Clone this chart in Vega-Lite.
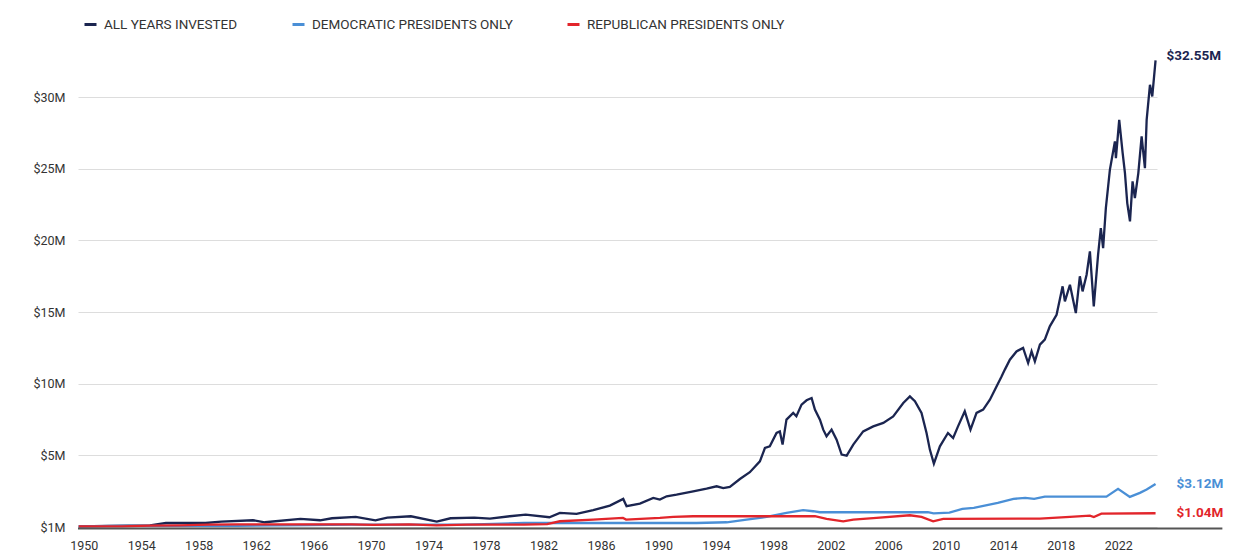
{
  "$schema": "https://vega.github.io/schema/vega-lite/v6.json",
  "width": 1079,
  "height": 473,
  "autosize": {"type": "none"},
  "padding": {"left": 78, "top": 54, "right": 82, "bottom": 27},
  "background": "white",
  "config": {
    "view": {"stroke": null},
    "font": "Roboto",
    "axis": {"labelFont": "Roboto", "labelColor": "#333333", "labelFontSize": 12.5}
  },
  "datasets": {
    "lines": [
      {"series": "ALL YEARS INVESTED", "year": 1950.0, "value": 0.05},
      {"series": "ALL YEARS INVESTED", "year": 1952.0, "value": 0.08},
      {"series": "ALL YEARS INVESTED", "year": 1954.96, "value": 0.12},
      {"series": "ALL YEARS INVESTED", "year": 1956.07, "value": 0.28},
      {"series": "ALL YEARS INVESTED", "year": 1958.82, "value": 0.28},
      {"series": "ALL YEARS INVESTED", "year": 1959.92, "value": 0.38},
      {"series": "ALL YEARS INVESTED", "year": 1962.13, "value": 0.47},
      {"series": "ALL YEARS INVESTED", "year": 1962.95, "value": 0.33},
      {"series": "ALL YEARS INVESTED", "year": 1965.43, "value": 0.56},
      {"series": "ALL YEARS INVESTED", "year": 1966.8, "value": 0.47},
      {"series": "ALL YEARS INVESTED", "year": 1967.63, "value": 0.61},
      {"series": "ALL YEARS INVESTED", "year": 1969.28, "value": 0.7},
      {"series": "ALL YEARS INVESTED", "year": 1970.65, "value": 0.47},
      {"series": "ALL YEARS INVESTED", "year": 1971.48, "value": 0.65},
      {"series": "ALL YEARS INVESTED", "year": 1973.12, "value": 0.75},
      {"series": "ALL YEARS INVESTED", "year": 1974.92, "value": 0.38},
      {"series": "ALL YEARS INVESTED", "year": 1975.88, "value": 0.61},
      {"series": "ALL YEARS INVESTED", "year": 1977.53, "value": 0.66},
      {"series": "ALL YEARS INVESTED", "year": 1978.62, "value": 0.58},
      {"series": "ALL YEARS INVESTED", "year": 1980.0, "value": 0.75},
      {"series": "ALL YEARS INVESTED", "year": 1981.11, "value": 0.86},
      {"series": "ALL YEARS INVESTED", "year": 1982.76, "value": 0.68},
      {"series": "ALL YEARS INVESTED", "year": 1983.49, "value": 0.98},
      {"series": "ALL YEARS INVESTED", "year": 1984.65, "value": 0.91},
      {"series": "ALL YEARS INVESTED", "year": 1985.81, "value": 1.17},
      {"series": "ALL YEARS INVESTED", "year": 1986.97, "value": 1.49},
      {"series": "ALL YEARS INVESTED", "year": 1987.9, "value": 1.96},
      {"series": "ALL YEARS INVESTED", "year": 1988.13, "value": 1.45},
      {"series": "ALL YEARS INVESTED", "year": 1989.06, "value": 1.63},
      {"series": "ALL YEARS INVESTED", "year": 1989.99, "value": 2.03},
      {"series": "ALL YEARS INVESTED", "year": 1990.45, "value": 1.91},
      {"series": "ALL YEARS INVESTED", "year": 1990.92, "value": 2.14},
      {"series": "ALL YEARS INVESTED", "year": 1991.61, "value": 2.26},
      {"series": "ALL YEARS INVESTED", "year": 1992.77, "value": 2.49},
      {"series": "ALL YEARS INVESTED", "year": 1993.7, "value": 2.68},
      {"series": "ALL YEARS INVESTED", "year": 1994.4, "value": 2.84},
      {"series": "ALL YEARS INVESTED", "year": 1994.86, "value": 2.72},
      {"series": "ALL YEARS INVESTED", "year": 1995.32, "value": 2.8},
      {"series": "ALL YEARS INVESTED", "year": 1996.02, "value": 3.35},
      {"series": "ALL YEARS INVESTED", "year": 1996.71, "value": 3.82},
      {"series": "ALL YEARS INVESTED", "year": 1997.41, "value": 4.58},
      {"series": "ALL YEARS INVESTED", "year": 1997.76, "value": 5.51},
      {"series": "ALL YEARS INVESTED", "year": 1998.1, "value": 5.63},
      {"series": "ALL YEARS INVESTED", "year": 1998.57, "value": 6.56},
      {"series": "ALL YEARS INVESTED", "year": 1998.8, "value": 6.67},
      {"series": "ALL YEARS INVESTED", "year": 1998.99, "value": 5.75},
      {"series": "ALL YEARS INVESTED", "year": 1999.26, "value": 7.49},
      {"series": "ALL YEARS INVESTED", "year": 1999.73, "value": 7.96},
      {"series": "ALL YEARS INVESTED", "year": 1999.95, "value": 7.73},
      {"series": "ALL YEARS INVESTED", "year": 2000.31, "value": 8.54},
      {"series": "ALL YEARS INVESTED", "year": 2000.66, "value": 8.84},
      {"series": "ALL YEARS INVESTED", "year": 2001.01, "value": 9.0},
      {"series": "ALL YEARS INVESTED", "year": 2001.24, "value": 8.19},
      {"series": "ALL YEARS INVESTED", "year": 2001.59, "value": 7.49},
      {"series": "ALL YEARS INVESTED", "year": 2001.82, "value": 6.79},
      {"series": "ALL YEARS INVESTED", "year": 2002.05, "value": 6.33},
      {"series": "ALL YEARS INVESTED", "year": 2002.4, "value": 6.79},
      {"series": "ALL YEARS INVESTED", "year": 2002.75, "value": 6.09},
      {"series": "ALL YEARS INVESTED", "year": 2003.1, "value": 5.05},
      {"series": "ALL YEARS INVESTED", "year": 2003.45, "value": 4.98},
      {"series": "ALL YEARS INVESTED", "year": 2003.91, "value": 5.75},
      {"series": "ALL YEARS INVESTED", "year": 2004.6, "value": 6.67},
      {"series": "ALL YEARS INVESTED", "year": 2005.3, "value": 7.02},
      {"series": "ALL YEARS INVESTED", "year": 2006.0, "value": 7.26},
      {"series": "ALL YEARS INVESTED", "year": 2006.69, "value": 7.72},
      {"series": "ALL YEARS INVESTED", "year": 2007.39, "value": 8.65},
      {"series": "ALL YEARS INVESTED", "year": 2007.85, "value": 9.11},
      {"series": "ALL YEARS INVESTED", "year": 2008.2, "value": 8.77},
      {"series": "ALL YEARS INVESTED", "year": 2008.66, "value": 7.96},
      {"series": "ALL YEARS INVESTED", "year": 2009.01, "value": 6.56},
      {"series": "ALL YEARS INVESTED", "year": 2009.24, "value": 5.4},
      {"series": "ALL YEARS INVESTED", "year": 2009.52, "value": 4.42},
      {"series": "ALL YEARS INVESTED", "year": 2009.94, "value": 5.63},
      {"series": "ALL YEARS INVESTED", "year": 2010.5, "value": 6.56},
      {"series": "ALL YEARS INVESTED", "year": 2010.86, "value": 6.21},
      {"series": "ALL YEARS INVESTED", "year": 2011.2, "value": 7.02},
      {"series": "ALL YEARS INVESTED", "year": 2011.67, "value": 8.07},
      {"series": "ALL YEARS INVESTED", "year": 2012.07, "value": 6.79},
      {"series": "ALL YEARS INVESTED", "year": 2012.49, "value": 7.96},
      {"series": "ALL YEARS INVESTED", "year": 2012.95, "value": 8.19},
      {"series": "ALL YEARS INVESTED", "year": 2013.42, "value": 8.88},
      {"series": "ALL YEARS INVESTED", "year": 2013.88, "value": 9.81},
      {"series": "ALL YEARS INVESTED", "year": 2014.23, "value": 10.5},
      {"series": "ALL YEARS INVESTED", "year": 2014.46, "value": 10.98},
      {"series": "ALL YEARS INVESTED", "year": 2014.81, "value": 11.67},
      {"series": "ALL YEARS INVESTED", "year": 2015.27, "value": 12.25},
      {"series": "ALL YEARS INVESTED", "year": 2015.73, "value": 12.49},
      {"series": "ALL YEARS INVESTED", "year": 2016.08, "value": 11.44},
      {"series": "ALL YEARS INVESTED", "year": 2016.32, "value": 12.26},
      {"series": "ALL YEARS INVESTED", "year": 2016.55, "value": 11.56},
      {"series": "ALL YEARS INVESTED", "year": 2016.9, "value": 12.72},
      {"series": "ALL YEARS INVESTED", "year": 2017.24, "value": 13.07},
      {"series": "ALL YEARS INVESTED", "year": 2017.59, "value": 14.0},
      {"series": "ALL YEARS INVESTED", "year": 2018.06, "value": 14.81},
      {"series": "ALL YEARS INVESTED", "year": 2018.48, "value": 16.79},
      {"series": "ALL YEARS INVESTED", "year": 2018.64, "value": 15.74},
      {"series": "ALL YEARS INVESTED", "year": 2018.99, "value": 16.9},
      {"series": "ALL YEARS INVESTED", "year": 2019.4, "value": 14.93},
      {"series": "ALL YEARS INVESTED", "year": 2019.68, "value": 17.49},
      {"series": "ALL YEARS INVESTED", "year": 2019.87, "value": 16.44},
      {"series": "ALL YEARS INVESTED", "year": 2020.15, "value": 17.6},
      {"series": "ALL YEARS INVESTED", "year": 2020.38, "value": 19.23},
      {"series": "ALL YEARS INVESTED", "year": 2020.65, "value": 15.39},
      {"series": "ALL YEARS INVESTED", "year": 2020.95, "value": 19.0},
      {"series": "ALL YEARS INVESTED", "year": 2021.14, "value": 20.86},
      {"series": "ALL YEARS INVESTED", "year": 2021.3, "value": 19.46},
      {"series": "ALL YEARS INVESTED", "year": 2021.49, "value": 22.25},
      {"series": "ALL YEARS INVESTED", "year": 2021.77, "value": 24.92},
      {"series": "ALL YEARS INVESTED", "year": 2022.12, "value": 26.9},
      {"series": "ALL YEARS INVESTED", "year": 2022.19, "value": 25.74},
      {"series": "ALL YEARS INVESTED", "year": 2022.42, "value": 28.41},
      {"series": "ALL YEARS INVESTED", "year": 2022.66, "value": 26.09},
      {"series": "ALL YEARS INVESTED", "year": 2022.82, "value": 24.69},
      {"series": "ALL YEARS INVESTED", "year": 2022.98, "value": 22.6},
      {"series": "ALL YEARS INVESTED", "year": 2023.17, "value": 21.32},
      {"series": "ALL YEARS INVESTED", "year": 2023.35, "value": 24.11},
      {"series": "ALL YEARS INVESTED", "year": 2023.51, "value": 22.95},
      {"series": "ALL YEARS INVESTED", "year": 2023.75, "value": 24.69},
      {"series": "ALL YEARS INVESTED", "year": 2023.98, "value": 27.25},
      {"series": "ALL YEARS INVESTED", "year": 2024.21, "value": 25.04},
      {"series": "ALL YEARS INVESTED", "year": 2024.33, "value": 28.41},
      {"series": "ALL YEARS INVESTED", "year": 2024.56, "value": 30.85},
      {"series": "ALL YEARS INVESTED", "year": 2024.72, "value": 30.04},
      {"series": "ALL YEARS INVESTED", "year": 2024.95, "value": 32.55},

      {"series": "DEMOCRATIC PRESIDENTS ONLY", "year": 1950.0, "value": 0.05},
      {"series": "DEMOCRATIC PRESIDENTS ONLY", "year": 1953.0, "value": 0.08},
      {"series": "DEMOCRATIC PRESIDENTS ONLY", "year": 1961.0, "value": 0.08},
      {"series": "DEMOCRATIC PRESIDENTS ONLY", "year": 1966.0, "value": 0.14},
      {"series": "DEMOCRATIC PRESIDENTS ONLY", "year": 1969.0, "value": 0.16},
      {"series": "DEMOCRATIC PRESIDENTS ONLY", "year": 1977.0, "value": 0.16},
      {"series": "DEMOCRATIC PRESIDENTS ONLY", "year": 1981.0, "value": 0.28},
      {"series": "DEMOCRATIC PRESIDENTS ONLY", "year": 1993.0, "value": 0.28},
      {"series": "DEMOCRATIC PRESIDENTS ONLY", "year": 1995.1, "value": 0.33},
      {"series": "DEMOCRATIC PRESIDENTS ONLY", "year": 1996.48, "value": 0.52},
      {"series": "DEMOCRATIC PRESIDENTS ONLY", "year": 1997.88, "value": 0.7},
      {"series": "DEMOCRATIC PRESIDENTS ONLY", "year": 1999.26, "value": 0.98},
      {"series": "DEMOCRATIC PRESIDENTS ONLY", "year": 2000.42, "value": 1.17},
      {"series": "DEMOCRATIC PRESIDENTS ONLY", "year": 2001.12, "value": 1.1},
      {"series": "DEMOCRATIC PRESIDENTS ONLY", "year": 2001.59, "value": 1.03},
      {"series": "DEMOCRATIC PRESIDENTS ONLY", "year": 2009.1, "value": 1.03},
      {"series": "DEMOCRATIC PRESIDENTS ONLY", "year": 2009.5, "value": 0.95},
      {"series": "DEMOCRATIC PRESIDENTS ONLY", "year": 2010.6, "value": 1.0},
      {"series": "DEMOCRATIC PRESIDENTS ONLY", "year": 2011.5, "value": 1.26},
      {"series": "DEMOCRATIC PRESIDENTS ONLY", "year": 2012.3, "value": 1.33},
      {"series": "DEMOCRATIC PRESIDENTS ONLY", "year": 2013.97, "value": 1.68},
      {"series": "DEMOCRATIC PRESIDENTS ONLY", "year": 2015.06, "value": 1.96},
      {"series": "DEMOCRATIC PRESIDENTS ONLY", "year": 2015.88, "value": 2.03},
      {"series": "DEMOCRATIC PRESIDENTS ONLY", "year": 2016.5, "value": 1.96},
      {"series": "DEMOCRATIC PRESIDENTS ONLY", "year": 2017.24, "value": 2.12},
      {"series": "DEMOCRATIC PRESIDENTS ONLY", "year": 2021.53, "value": 2.12},
      {"series": "DEMOCRATIC PRESIDENTS ONLY", "year": 2022.34, "value": 2.66},
      {"series": "DEMOCRATIC PRESIDENTS ONLY", "year": 2023.16, "value": 2.1},
      {"series": "DEMOCRATIC PRESIDENTS ONLY", "year": 2023.86, "value": 2.38},
      {"series": "DEMOCRATIC PRESIDENTS ONLY", "year": 2024.33, "value": 2.61},
      {"series": "DEMOCRATIC PRESIDENTS ONLY", "year": 2024.95, "value": 3.0},

      {"series": "REPUBLICAN PRESIDENTS ONLY", "year": 1950.0, "value": 0.05},
      {"series": "REPUBLICAN PRESIDENTS ONLY", "year": 1953.0, "value": 0.05},
      {"series": "REPUBLICAN PRESIDENTS ONLY", "year": 1955.0, "value": 0.1},
      {"series": "REPUBLICAN PRESIDENTS ONLY", "year": 1957.0, "value": 0.12},
      {"series": "REPUBLICAN PRESIDENTS ONLY", "year": 1959.0, "value": 0.16},
      {"series": "REPUBLICAN PRESIDENTS ONLY", "year": 1961.0, "value": 0.18},
      {"series": "REPUBLICAN PRESIDENTS ONLY", "year": 1969.0, "value": 0.18},
      {"series": "REPUBLICAN PRESIDENTS ONLY", "year": 1970.5, "value": 0.15},
      {"series": "REPUBLICAN PRESIDENTS ONLY", "year": 1973.0, "value": 0.19},
      {"series": "REPUBLICAN PRESIDENTS ONLY", "year": 1974.9, "value": 0.12},
      {"series": "REPUBLICAN PRESIDENTS ONLY", "year": 1977.0, "value": 0.17},
      {"series": "REPUBLICAN PRESIDENTS ONLY", "year": 1981.0, "value": 0.17},
      {"series": "REPUBLICAN PRESIDENTS ONLY", "year": 1982.6, "value": 0.2},
      {"series": "REPUBLICAN PRESIDENTS ONLY", "year": 1983.49, "value": 0.4},
      {"series": "REPUBLICAN PRESIDENTS ONLY", "year": 1985.8, "value": 0.52},
      {"series": "REPUBLICAN PRESIDENTS ONLY", "year": 1987.88, "value": 0.63},
      {"series": "REPUBLICAN PRESIDENTS ONLY", "year": 1988.1, "value": 0.52},
      {"series": "REPUBLICAN PRESIDENTS ONLY", "year": 1990.45, "value": 0.63},
      {"series": "REPUBLICAN PRESIDENTS ONLY", "year": 1991.38, "value": 0.7},
      {"series": "REPUBLICAN PRESIDENTS ONLY", "year": 1992.77, "value": 0.75},
      {"series": "REPUBLICAN PRESIDENTS ONLY", "year": 2001.24, "value": 0.75},
      {"series": "REPUBLICAN PRESIDENTS ONLY", "year": 2002.05, "value": 0.56},
      {"series": "REPUBLICAN PRESIDENTS ONLY", "year": 2003.21, "value": 0.4},
      {"series": "REPUBLICAN PRESIDENTS ONLY", "year": 2003.91, "value": 0.52},
      {"series": "REPUBLICAN PRESIDENTS ONLY", "year": 2005.53, "value": 0.63},
      {"series": "REPUBLICAN PRESIDENTS ONLY", "year": 2007.85, "value": 0.82},
      {"series": "REPUBLICAN PRESIDENTS ONLY", "year": 2008.66, "value": 0.7},
      {"series": "REPUBLICAN PRESIDENTS ONLY", "year": 2009.47, "value": 0.4},
      {"series": "REPUBLICAN PRESIDENTS ONLY", "year": 2010.17, "value": 0.56},
      {"series": "REPUBLICAN PRESIDENTS ONLY", "year": 2016.9, "value": 0.59},
      {"series": "REPUBLICAN PRESIDENTS ONLY", "year": 2018.99, "value": 0.7},
      {"series": "REPUBLICAN PRESIDENTS ONLY", "year": 2020.38, "value": 0.79},
      {"series": "REPUBLICAN PRESIDENTS ONLY", "year": 2020.65, "value": 0.7},
      {"series": "REPUBLICAN PRESIDENTS ONLY", "year": 2021.18, "value": 0.93},
      {"series": "REPUBLICAN PRESIDENTS ONLY", "year": 2024.95, "value": 0.96}
    ],
    "ends": [
      {"series": "ALL YEARS INVESTED", "year": 2024.95, "value": 32.55, "label": "$32.55M"},
      {"series": "DEMOCRATIC PRESIDENTS ONLY", "year": 2024.95, "value": 3.0, "label": "$3.12M"},
      {"series": "REPUBLICAN PRESIDENTS ONLY", "year": 2024.95, "value": 0.96, "label": "$1.04M"}
    ]
  },
  "layer": [
    {
      "data": {"name": "lines"},
      "mark": {"type": "line", "strokeWidth": 2.3, "clip": false},
      "encoding": {
        "x": {
          "field": "year",
          "type": "quantitative",
          "scale": {"domain": [1949.95, 2025.05], "nice": false, "zero": false},
          "axis": {
            "title": null,
            "values": [1950, 1954, 1958, 1962, 1966, 1970, 1974, 1978, 1982, 1986, 1990, 1994, 1998, 2002, 2006, 2010, 2014, 2018, 2022],
            "format": "d",
            "grid": false,
            "domain": false,
            "ticks": false,
            "labelFlush": false,
            "labelOverlap": false,
            "labelOffset": 5,
            "labelPadding": 12
          }
        },
        "y": {
          "field": "value",
          "type": "quantitative",
          "scale": {"domain": [0, 33], "nice": false},
          "axis": {
            "title": null,
            "values": [0, 5, 10, 15, 20, 25, 30],
            "labelExpr": "datum.value == 0 ? '$1M' : '$' + datum.value + 'M'",
            "grid": true,
            "gridColor": "#dddddd",
            "gridWidth": 1,
            "domain": false,
            "ticks": false,
            "labelFlush": false,
            "labelPadding": 13
          }
        },
        "color": {
          "field": "series",
          "type": "nominal",
          "scale": {
            "domain": ["ALL YEARS INVESTED", "DEMOCRATIC PRESIDENTS ONLY", "REPUBLICAN PRESIDENTS ONLY"],
            "range": ["#1b2550", "#4a8fd6", "#e2252b"]
          },
          "legend": {
            "orient": "none",
            "legendX": 5,
            "legendY": -37,
            "direction": "horizontal",
            "title": null,
            "symbolType": "stroke",
            "symbolSize": 144,
            "symbolStrokeWidth": 3,
            "labelFont": "Roboto",
            "labelFontSize": 13.5,
            "labelColor": "#333333",
            "labelLimit": 0,
            "labelOffset": 6,
            "columnPadding": 48
          }
        }
      }
    },
    {
      "data": {"values": [{}]},
      "mark": {"type": "rule", "color": "#555555", "strokeWidth": 2, "yOffset": 1.6},
      "encoding": {
        "x": {"datum": 1949.95, "type": "quantitative"},
        "x2": {"datum": 2029.6},
        "y": {"datum": 0, "type": "quantitative"}
      }
    },
    {
      "data": {"name": "ends"},
      "transform": [{"filter": "datum.value > 10"}],
      "mark": {"type": "text", "align": "left", "baseline": "middle", "dx": 11, "dy": -4, "fontSize": 13.5, "fontWeight": "bold", "font": "Roboto"},
      "encoding": {
        "x": {"field": "year", "type": "quantitative"},
        "y": {"field": "value", "type": "quantitative"},
        "text": {"field": "label"},
        "color": {"field": "series", "type": "nominal", "legend": null}
      }
    },
    {
      "data": {"name": "ends"},
      "transform": [{"filter": "datum.value < 10"}],
      "mark": {"type": "text", "align": "left", "baseline": "middle", "dx": 21, "fontSize": 13.5, "fontWeight": "bold", "font": "Roboto"},
      "encoding": {
        "x": {"field": "year", "type": "quantitative"},
        "y": {"field": "value", "type": "quantitative"},
        "text": {"field": "label"},
        "color": {"field": "series", "type": "nominal", "legend": null}
      }
    }
  ]
}
